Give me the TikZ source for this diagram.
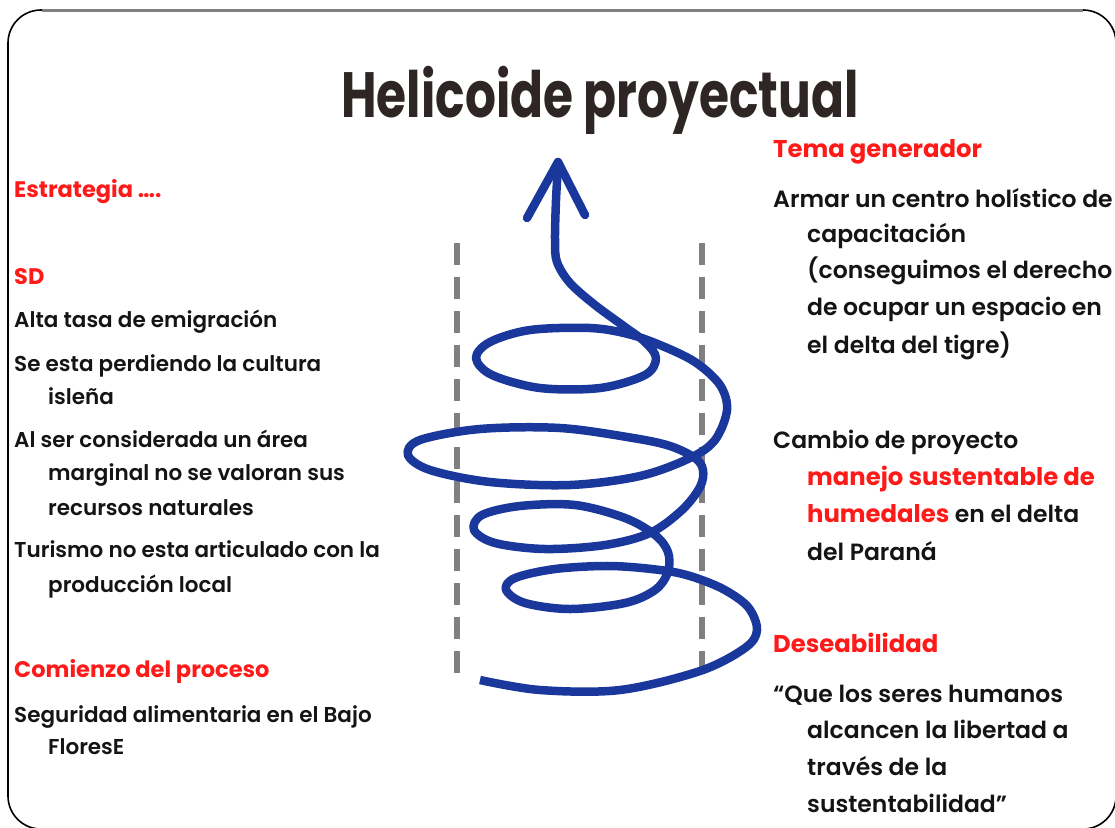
\documentclass[tikz,border=0pt]{standalone}
\usepackage{fontspec}
\setmainfont{Poppins}
\newfontfamily\bodyf{Poppins SemiBold}
\newfontfamily\headf{Poppins Bold}
\newfontfamily\titlef[FakeStretch=0.76]{Poppins Bold}
\definecolor{txt}{HTML}{141414}
\definecolor{hdr}{HTML}{FF1A1A}
\definecolor{ttl}{HTML}{2E2624}
\definecolor{spir}{HTML}{1A379C}
\definecolor{guidegray}{HTML}{808080}
\tikzset{
  lt/.style={anchor=base west, inner sep=0pt, text=txt, font=\bodyf\fontsize{21.5}{21.5}\selectfont},
  lh/.style={lt, text=hdr, font=\headf\fontsize{22.5}{22.5}\selectfont},
  rt/.style={anchor=base west, inner sep=0pt, text=txt, font=\bodyf\fontsize{23.5}{23.5}\selectfont},
  rh/.style={rt, text=hdr, font=\headf\fontsize{24.3}{24.3}\selectfont},
  spiral/.style={draw=spir, line width=8.5pt, line join=round},
  guide/.style={draw=guidegray, line width=6pt, dash pattern=on 22pt off 12pt},
  frame/.style={draw=black, line width=1.6pt, rounded corners=33pt}
}
\begin{document}
\begin{tikzpicture}[x=1pt,y=-1pt]
\useasboundingbox (0,0) rectangle (1115,827);
\clip (0,0) rectangle (1115,827);
\draw[frame] (8,10) rectangle (1116,829);
\draw[draw=guidegray, line width=3pt] (42,10) -- (1083,10);

% title
\node[anchor=base, inner sep=0pt, text=ttl, font=\titlef\fontsize{64}{64}\selectfont] (title) at (600,117) {Helicoide proyectual};

% guides
\coordinate (gl1) at (457,243); \coordinate (gl2) at (457,682);
\coordinate (gr1) at (702,243); \coordinate (gr2) at (702,675);
\draw[guide] (gl1) -- (gl2);
\draw[guide] (gr1) -- (gr2);

% spiral
\draw[spiral] plot[smooth, tension=0.55] coordinates {
(480,680) (540,690) (620,690) (700,671) (745,648) (757,630) (748,607) (723,589)
(690,576) (660,570) (610,566) (555,569) (515,578) (506,590) (525,603) (570,609)
(625,603) (655,590) (668,572) (668,552) (655,535) (625,518) (575,505) (520,506)
(482,515) (474,530) (495,543) (545,549) (605,545) (650,533) (682,510) (700,487)
(703,470) (695,458) (670,446) (633,438) (560,428) (480,429) (420,440) (408,455)
(430,470) (490,482) (570,485) (640,476) (690,458) (715,440) (727,410) (720,385)
(695,362) (660,345) (628,334) (590,328) (530,330) (490,342) (476,358) (492,375)
(540,388) (600,388) (645,375) (656,358) (645,342) (625,327) (595,305) (570,283)
(557,262) (555,240) (556,200) (558,166)};
\coordinate (tip) at (558,162);
\coordinate (wl) at (527,218);
\coordinate (wr) at (585,215);
\draw[spiral, line cap=round] (wl) -- (tip) -- (wr);

% left column
\node[lh] (l1) at (14,197) {Estrategia ….};
\node[lh] (l2) at (14,284) {SD};
\node[lt] (l3) at (14,327) {Alta tasa de emigración};
\node[lt] (l4) at (14,371) {Se esta perdiendo la cultura};
\node[lt] (l5) at (48,404) {isleña};
\node[lt] (l6) at (14,447) {Al ser considerada un área};
\node[lt] (l7) at (48,480) {marginal no se valoran sus};
\node[lt] (l8) at (48,515) {recursos naturales};
\node[lt] (l9) at (14,557) {Turismo no esta articulado con la};
\node[lt] (l10) at (48,592) {producción local};
\node[lh] (l11) at (14,677) {Comienzo del proceso};
\node[lt] (l12) at (14,722) {Seguridad alimentaria en el Bajo};
\node[lt] (l13) at (48,754) {FloresE};

% right column
\node[rh] (r1) at (773,157) {Tema generador};
\node[rt] (r2) at (773,207) {Armar un centro holístico de};
\node[rt] (r3) at (807,242) {capacitación};
\node[rt] (r4) at (807,278) {(conseguimos el derecho};
\node[rt] (r5) at (807,315) {de ocupar un espacio en};
\node[rt] (r6) at (807,353) {el delta del tigre)};
\node[rt] (r7) at (773,448) {Cambio de proyecto};
\node[rh] (r8) at (807,485) {manejo sustentable de};
\node[rt] (r9) at (807,522) {{\headf\fontsize{24.3}{24.3}\selectfont\color{hdr}humedales} en el delta};
\node[rt] (r10) at (807,560) {del Paraná};
\node[rh] (r11) at (773,652) {Deseabilidad};
\node[rt] (r12) at (773,702) {“Que los seres humanos};
\node[rt] (r13) at (807,738) {alcancen la libertad a};
\node[rt] (r14) at (807,775) {través de la};
\node[rt] (r15) at (807,812) {sustentabilidad”};
\end{tikzpicture}
\end{document}
